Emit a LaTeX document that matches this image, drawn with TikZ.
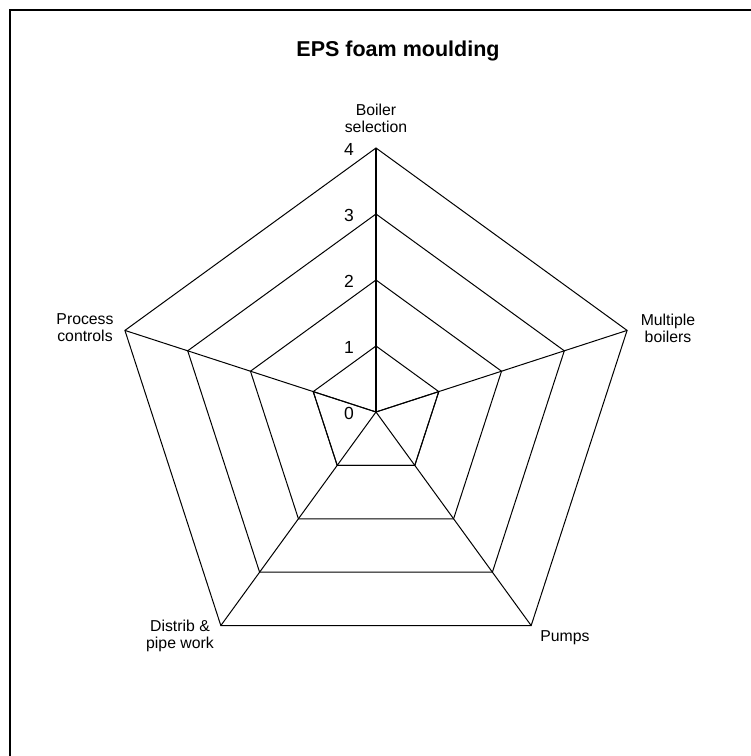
\documentclass[tikz,border=0pt]{standalone}
\usepackage{fontspec}
\setmainfont{Liberation Sans}
\usetikzlibrary{calc}
\begin{document}
\begin{tikzpicture}[x=1pt,y=1pt,
  gridline/.style={draw=black, line width=1pt, line join=miter},
  valueaxis/.style={draw=black, line width=2pt},
  frameline/.style={draw=black, line width=2pt},
  series/.style={draw=black, line width=1pt},
  catlabel/.style={align=center, inner sep=0pt, font=\fontsize{15.8}{17}\selectfont},
  ticklabel/.style={inner sep=0pt, font=\fontsize{17.5}{19}\selectfont},
  titlelabel/.style={inner sep=0pt, font=\fontsize{21.5}{24}\selectfont\bfseries}]
\useasboundingbox (0,0) rectangle (751,756);

% chart frame (runs past the right and bottom edges)
\begin{scope}
  \clip (0,0) rectangle (751,756);
  \draw[frameline] (9.5,-20) -- (9.5,745.5) -- (780,745.5);
\end{scope}

% centre and grid points: level k on axis i
\coordinate (c) at (376,344);
\foreach \k in {1,...,4}{
  \foreach \i in {0,...,4}{
    \coordinate (p-\k-\i) at ($(c)+({90-72*\i}:{66*\k})$);
  }
}

% concentric pentagons
\foreach \k in {1,...,4}{
  \draw[gridline] (p-\k-0) -- (p-\k-1) -- (p-\k-2) -- (p-\k-3) -- (p-\k-4) -- cycle;
}

% category spokes
\foreach \i in {1,...,4}{
  \draw[gridline] (c) -- (p-4-\i);
}

% data series: 0, 1, 1, 1, 1
\draw[series] (c) -- (p-1-1) -- (p-1-2) -- (p-1-3) -- (p-1-4) -- cycle;

% value axis
\draw[valueaxis] (c) -- (p-4-0);

% value axis labels
\node[ticklabel] (v0) at (349,343) {0};
\foreach \k in {1,...,4}{
  \node[ticklabel] (v\k) at (349,{343+66*\k}) {\k};
}

% category labels
\node[catlabel] (l0) at (376,638) {Boiler\\selection};
\node[catlabel] (l1) at (668,428) {Multiple\\boilers};
\node[catlabel] (l2) at (565,118) {Pumps};
\node[catlabel] (l3) at (180,120) {Distrib \&\\pipe work};
\node[catlabel] (l4) at (85,428) {Process\\controls};

% title
\node[titlelabel] (title) at (398,705) {EPS foam moulding};
\end{tikzpicture}
\end{document}
